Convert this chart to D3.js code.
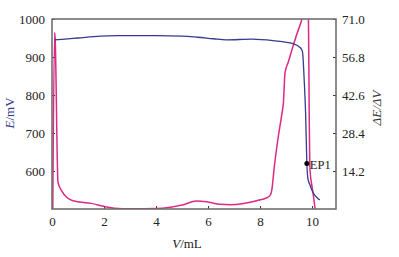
<!DOCTYPE html>
<html><head><meta charset="utf-8">
<script src="https://cdn.jsdelivr.net/npm/d3@7"></script>
<style>body{margin:0;background:#fff}svg{display:block}</style>
</head><body><svg id="c" width="399" height="257"></svg>
<script>
const volumeE = [0.1,0.5,1,1.85,2.5,4,5,5.6,6.2,6.7,7.7,8.5,9.27,9.54,9.63,9.7,9.75,9.8,9.84,9.92,9.99,10.3];
const potential = [945,947,950,955,956,956,955,952,948,945,947,943,935,925,914,835,755,620,580,563,550,524];
const volumeD = [0.03,0.1,0.12,0.23,0.36,0.81,1.51,2.03,2.4,3,4.03,5,5.56,5.95,6.46,6.85,7.87,8.26,8.38,8.45,8.55,8.7,8.83,8.9,8.96,9.09,9.28,9.54,9.67,9.86,9.89,9.92,10.02,10.12];
const derivative = [0,66,64,10,7,3.1,2.1,0.9,0.3,0.1,0.2,1.5,3.0,2.7,1.75,1.6,3.1,4.2,5,7,16,27,35,40,51,55,61.3,68.8,72,72,35,14.6,7.1,0];
const xTicks = [0,2,4,6,8,10];
const eTicks = [600,700,800,900,1000];
const dTicks = [14.2,28.4,42.6,56.8,71.0];
const endpoint = {v:9.8, e:620, label:"EP1"};

const FONT = '"Liberation Serif"';
const svg = d3.select("#c");
const L=52, R=336, T=19, B=209;
const x = d3.scaleLinear().domain([0,10.92]).range([L,R]);
const yE = d3.scaleLinear().domain([500,1000]).range([B,T]);
const yD = d3.scaleLinear().domain([0,71]).range([B,T]);
const blue="#363b8c", pink="#dc2887", frame="#707070";

svg.append("clipPath").attr("id","clip").append("rect").attr("x",L).attr("y",T).attr("width",R-L).attr("height",B-T);

const gx = svg.append("g").attr("transform",`translate(0,${B})`)
  .call(d3.axisBottom(x).tickValues(xTicks).tickSizeInner(-3).tickSizeOuter(0).tickPadding(8).tickFormat(d3.format("d")));
const gl = svg.append("g").attr("transform",`translate(${L},0)`)
  .call(d3.axisLeft(yE).tickValues(eTicks).tickSizeInner(-3).tickSizeOuter(0).tickPadding(7).tickFormat(d3.format("d")));
const gr = svg.append("g").attr("transform",`translate(${R},0)`)
  .call(d3.axisRight(yD).tickValues(dTicks).tickSizeInner(-3).tickSizeOuter(0).tickPadding(6).tickFormat(d3.format(".1f")));
[gx,gl,gr].forEach(g=>{
  g.attr("font-family",null).attr("font-size",null);
  g.select(".domain").remove();
  g.selectAll(".tick line").attr("stroke","#333").attr("stroke-width",1);
  g.selectAll(".tick text").attr("fill","#222").style("font-family",FONT).style("font-size","13px");
});

const plot = svg.append("g").attr("clip-path","url(#clip)");
plot.append("path").datum(volumeD.map((v,i)=>[v,derivative[i]]))
  .attr("fill","none").attr("stroke",pink).attr("stroke-width",1.5)
  .attr("d",d3.line().x(d=>x(d[0])).y(d=>yD(d[1])).curve(d3.curveMonotoneX));
plot.append("path").datum(volumeE.map((v,i)=>[v,potential[i]]))
  .attr("fill","none").attr("stroke",blue).attr("stroke-width",1.3)
  .attr("d",d3.line().x(d=>x(d[0])).y(d=>yE(d[1])).curve(d3.curveMonotoneX));

svg.append("rect").attr("x",L).attr("y",T).attr("width",R-L).attr("height",B-T)
  .attr("fill","none").attr("stroke",frame).attr("stroke-width",1.6);

svg.append("circle").attr("cx",x(endpoint.v)).attr("cy",yE(endpoint.e)).attr("r",2.5).attr("fill","#000");
svg.append("text").attr("x",x(endpoint.v)+3).attr("y",yE(endpoint.e)+1).attr("dy","0.35em")
  .style("font-family",FONT).style("font-size","12.5px").attr("fill","#222").text(endpoint.label);

svg.append("text").attr("x",187).attr("y",248).attr("text-anchor","middle").style("font-family",FONT).style("font-size","13px").attr("fill","#222")
  .html('<tspan font-style="italic">V</tspan>/mL');
svg.append("text").attr("transform","translate(14,113) rotate(-90)").attr("text-anchor","middle").style("font-family",FONT).style("font-size","13px").attr("fill",blue)
  .html('<tspan font-style="italic">E</tspan>/mV');
svg.append("text").attr("transform","translate(381,108) rotate(-90)").attr("text-anchor","middle").style("font-family",FONT).style("font-size","13px").attr("fill","#333")
  .attr("font-style","italic").text("ΔE/ΔV");
</script></body></html>
